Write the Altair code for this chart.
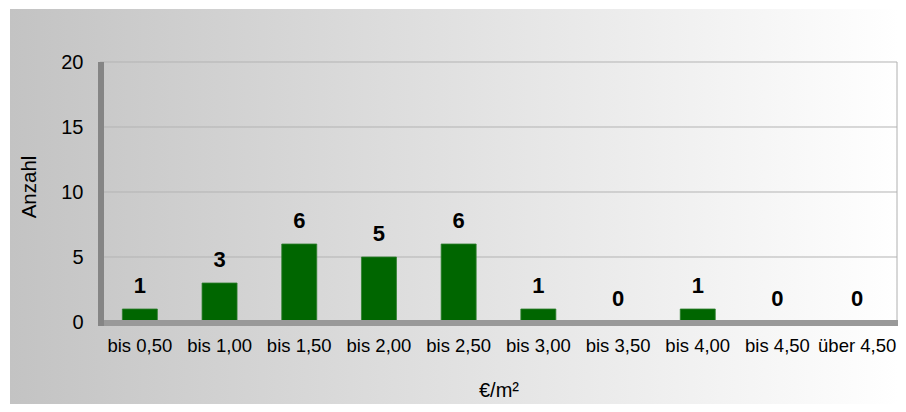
import altair as alt
import pandas as pd

categories = ["bis 0,50", "bis 1,00", "bis 1,50", "bis 2,00", "bis 2,50",
              "bis 3,00", "bis 3,50", "bis 4,00", "bis 4,50", "über 4,50"]
values = [1, 3, 6, 5, 6, 1, 0, 1, 0, 0]
grid_values = [5, 10, 15, 20]
y_ticks = [0, 5, 10, 15, 20]

W, H = 797, 260
FONT = "Liberation Sans"

df = pd.DataFrame({"Kategorie": categories, "Anzahl": values})
grid_df = pd.DataFrame({"g": grid_values})
one = pd.DataFrame({"a": [0]})

yscale = alt.Scale(domain=[0, 20], nice=False)
xscale = alt.Scale(paddingInner=0, paddingOuter=0)

background = alt.Chart(one).mark_rect(
    fill=alt.Gradient(
        gradient="linear",
        stops=[alt.GradientStop(color="#c3c3c3", offset=0),
               alt.GradientStop(color="#ffffff", offset=1)],
        x1=0, x2=1, y1=0, y2=0,
    )
).encode(x=alt.value(-90), x2=alt.value(W + 2), y=alt.value(-53), y2=alt.value(H + 90))

grid = alt.Chart(grid_df).mark_rule(color="#b3b3b3", strokeWidth=1).encode(
    y=alt.Y("g:Q", scale=yscale),
    x=alt.value(0), x2=alt.value(W),
)

bars = alt.Chart(df).mark_bar(color="#006600", stroke="#2f7f2f", strokeWidth=0.8, size=35).encode(
    x=alt.X("Kategorie:N", sort=categories, scale=xscale,
            axis=alt.Axis(labelAngle=0, labelFontSize=18.5, labelFont=FONT, labelColor="#000000",
                          labelPadding=14, domain=False, ticks=False, tickSize=0,
                          labelOverlap=False, labelLimit=200, zindex=1,
                          title="€/m²", titleFont=FONT, titleFontSize=20, titleFontWeight="normal",
                          titleColor="#000000", titleX=W / 2, titleY=74, titleBaseline="alphabetic",
                          titleAlign="center")),
    y=alt.Y("Anzahl:Q", scale=yscale,
            axis=alt.Axis(values=y_ticks, grid=False, domain=False, ticks=False, tickSize=0,
                          labelPadding=17, labelFontSize=20, labelFont=FONT, labelColor="#000000",
                          zindex=1,
                          title="Anzahl", titleFont=FONT, titleFontSize=20.5, titleFontWeight="normal",
                          titleColor="#000000", titleX=-65, titleY=124.5, titleBaseline="alphabetic",
                          titleAlign="center")),
)

labels = alt.Chart(df).mark_text(
    font=FONT, fontSize=22, fontWeight="bold", color="#000000",
    baseline="alphabetic", dy=-16,
).encode(
    x=alt.X("Kategorie:N", sort=categories, scale=xscale),
    y=alt.Y("Anzahl:Q", scale=yscale),
    text=alt.Text("Anzahl:Q"),
)

wall = alt.Chart(one).mark_rect(color="#858585").encode(
    x=alt.value(-2), x2=alt.value(4), y=alt.value(0), y2=alt.value(264))
floor = alt.Chart(one).mark_rect(color="#999999").encode(
    x=alt.value(-2), x2=alt.value(W + 2), y=alt.value(258), y2=alt.value(264))
right_border = alt.Chart(one).mark_rule(color="#b0b0b0", strokeWidth=1).encode(
    x=alt.value(W), y=alt.value(0), y2=alt.value(258))

chart = alt.layer(background, grid, bars, labels, right_border, floor, wall).properties(
    width=W, height=H,
    padding={"left": 92, "top": 54, "right": 1, "bottom": 82},
    autosize=alt.AutoSizeParams(type="none"),
).configure_view(stroke=None).configure(background="#ffffff")

chart.save("out.html", embed_options={"renderer": "svg", "actions": False})
